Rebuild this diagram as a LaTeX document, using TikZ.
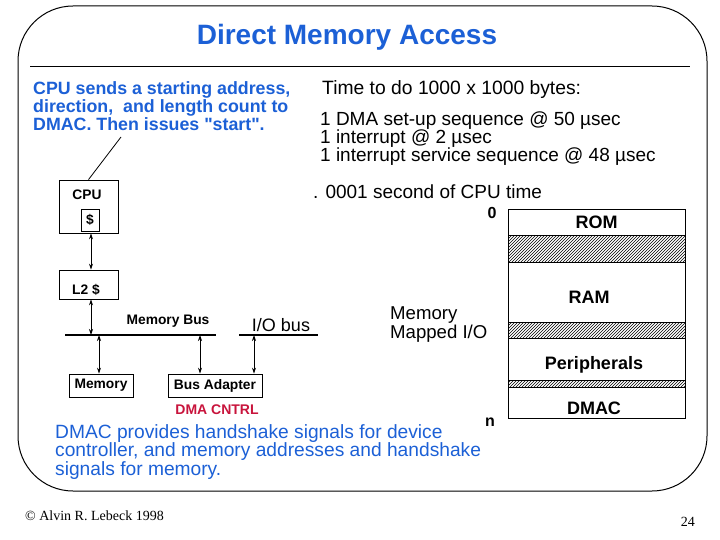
\documentclass[tikz,border=0pt]{standalone}
\usepackage{fontspec}
\setmainfont{Liberation Sans}[Ligatures=TeXOff]
\newfontfamily\serifft{Liberation Serif}
\usetikzlibrary{arrows.meta,patterns}
\definecolor{slideblue}{RGB}{28,96,214}
\definecolor{cntrlred}{RGB}{200,20,60}
\tikzset{
  txt/.style={anchor=base west,inner sep=0pt},
  ctxt/.style={anchor=base,inner sep=0pt},
  blk/.style={draw,line width=0.8pt,inner sep=0pt},
  hatch/.style={draw,line width=0.8pt,pattern=north east lines},
  link/.style={line width=0.8pt,{Stealth[length=6pt,width=4pt]}-{Stealth[length=6pt,width=4pt]}},
  bus/.style={line width=1.6pt},
  lbl/.style={font=\fontsize{13.8}{15}\selectfont\bfseries,inner sep=0pt},
  maplbl/.style={font=\fontsize{18}{19}\selectfont\bfseries,inner sep=0pt},
}
\begin{document}
\begin{tikzpicture}[x=1pt,y=-1pt]
\path[use as bounding box] (0,0) rectangle (720,540);
\draw[line width=1pt,rounded corners=55pt] (18,6) rectangle (707,491);
\node[ctxt,text=slideblue,font=\fontsize{28}{30}\selectfont\bfseries] (title) at (347,45) {Direct Memory Access};
\draw[line width=1pt] (30,67) coordinate (r1) -- (690,67) coordinate (r2);

\node[txt,text=slideblue,font=\fontsize{17.8}{18}\selectfont\bfseries,align=left] (cpunote) at (33,131)
  {CPU sends a starting address,\\direction,\ \ and length count to\\DMAC. Then issues "start".};

\node[txt,font=\fontsize{19.3}{18}\selectfont] (timehdr) at (322,95) {Time to do 1000 x 1000 bytes:};
\node[txt,font=\fontsize{19}{18}\selectfont,align=left] (times) at (320,162)
  {1 DMA set-up sequence @ 50 µsec\\1 interrupt @ 2 µsec\\1 interrupt service sequence @ 48 µsec};

% CPU side
\node[blk,minimum width=59pt,minimum height=53pt] (cpu) at (88.5,206.5) {};
\node[lbl] (cpulbl) at (87,195) {CPU};
\node[blk,minimum width=18pt,minimum height=22pt,lbl] (cache) at (90,220) {\$};
\node[blk,minimum width=59pt,minimum height=29pt] (l2) at (88.5,284.5) {};
\node[lbl] (l2lbl) at (86,290) {L2 \$};
\coordinate (noteend) at (121,137);
\draw[line width=0.8pt] (noteend) -- (cpu.north);

\coordinate (mb1) at (65,335);
\coordinate (mb2) at (216,335);
\draw[bus] (mb1) -- (mb2);
\node[lbl] (mblbl) at (168,321) {Memory Bus};
\coordinate (io1) at (239,335);
\coordinate (io2) at (318,335);
\draw[bus] (io1) -- (io2);
\node[inner sep=0pt,font=\fontsize{18}{19}\selectfont] (iolbl) at (281,325) {I/O bus};

\node[blk,lbl,minimum width=64pt,minimum height=23pt] (mem) at (101,385.5) {Memory};
\node[blk,lbl,minimum width=94pt,minimum height=23pt] (bad) at (215,385.5) {Bus Adapter};
\node[lbl,text=cntrlred,font=\fontsize{14}{15}\selectfont\bfseries] (dmac1) at (217,410) {DMA CNTRL};

\coordinate (a1) at (91,335);
\coordinate (a2) at (99,335);
\coordinate (a3) at (200,335);
\coordinate (a4) at (254,335);
\draw[link] (cpu.south -| a1) -- (l2.north -| a1);
\draw[link] (l2.south -| a1) -- (a1);
\draw[link] (a2) -- (mem.north -| a2);
\draw[link] (a3) -- (bad.north -| a3);
\draw[link] (a4) -- (bad.north -| a4);

% memory map
\node[txt,font=\fontsize{19}{20}\selectfont] (cputime) at (313,199) {. 0001 second of CPU time};
\node[inner sep=0pt,font=\fontsize{16}{17}\selectfont\bfseries] (zero) at (492,213) {0};
\node[inner sep=0pt,font=\fontsize{16}{17}\selectfont\bfseries] (nn) at (490,422) {n};
\node[blk,minimum width=177pt,minimum height=26pt,maplbl] (rom) at (596.5,222) {ROM};
\node[hatch,minimum width=177pt,minimum height=27pt] (h1) at (596.5,248.5) {};
\node[blk,minimum width=177pt,minimum height=60pt] (ram) at (596.5,292) {};
\node[maplbl] (ramlbl) at (589,297) {RAM};
\node[hatch,minimum width=177pt,minimum height=16pt] (h2) at (596.5,330) {};
\node[blk,minimum width=177pt,minimum height=42pt] (per) at (596.5,359) {};
\node[maplbl] (perlbl) at (594,365) {Peripherals};
\node[hatch,minimum width=177pt,minimum height=7pt] (h3) at (596.5,383.5) {};
\node[blk,minimum width=177pt,minimum height=31pt] (dmacbox) at (596.5,402.5) {};
\node[maplbl] (dmaclbl) at (594,408) {DMAC};
\node[txt,font=\fontsize{18.6}{19}\selectfont,align=left] (mmio) at (390,338) {Memory\\Mapped I/O};

\node[txt,text=slideblue,font=\fontsize{19.2}{18.5}\selectfont,align=left] (dmacnote) at (55,475)
  {DMAC provides handshake signals for device\\controller, and memory addresses and handshake\\signals for memory.};

\node[txt,font=\serifft\fontsize{14}{15}\selectfont] (copy) at (25,520) {© Alvin R. Lebeck 1998};
\node[anchor=base east,inner sep=0pt,font=\serifft\fontsize{14}{15}\selectfont] (pg) at (695,526) {24};
\end{tikzpicture}
\end{document}
